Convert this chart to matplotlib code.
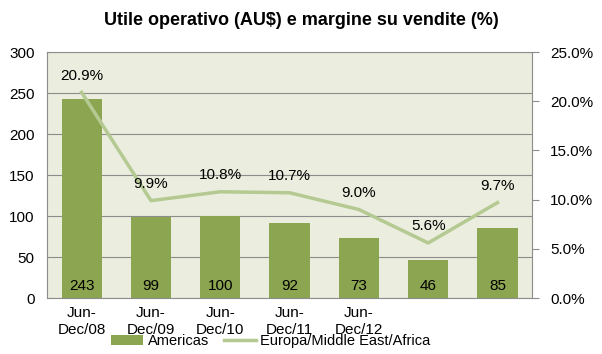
import matplotlib
matplotlib.use("Agg")
import matplotlib.pyplot as plt
import numpy as np

categories = ["Jun-\nDec/08", "Jun-\nDec/09", "Jun-\nDec/10", "Jun-\nDec/11", "Jun-\nDec/12", "", ""]
bar_values = [243, 99, 100, 92, 73, 46, 85]
margin_pct = [20.9, 9.9, 10.8, 10.7, 9.0, 5.6, 9.7]
bar_name = "Americas"
line_name = "Europa/Middle East/Africa"
title = "Utile operativo (AU$) e margine su vendite (%)"

bar_color = "#8BA550"
line_color = "#B4CA92"
bg_color = "#EBEEDE"
grid_color = "#8C8C8C"

plt.rcParams['font.family'] = ['Liberation Sans', 'DejaVu Sans']

fig = plt.figure(figsize=(6.02, 3.54), dpi=100)
ax = fig.add_axes([0.078, 0.158, 0.806, 0.695])
ax.set_facecolor(bg_color)
x = np.arange(len(categories))
bars = ax.bar(x, bar_values, width=0.58, color=bar_color, label=bar_name, zorder=2)
ax.set_ylim(0, 300)
ax.set_yticks(np.arange(0, 301, 50))
ax.set_xlim(-0.5, len(categories) - 0.5)
ax.set_xticks(x)
ax.set_xticklabels(categories, fontsize=11)
ax.tick_params(axis='x', length=0, pad=6)
ax.tick_params(axis='y', length=0, labelsize=11, pad=9)
ax.yaxis.grid(True, color=grid_color, linewidth=0.8, zorder=0)
ax.set_axisbelow(True)
for s in ['top', 'right']:
    ax.spines[s].set_visible(False)
for s in ['left', 'bottom']:
    ax.spines[s].set_color(grid_color)
for xi, v in zip(x, bar_values):
    ax.text(xi, 6, str(v), ha='center', va='bottom', fontsize=11, zorder=3)

ax2 = ax.twinx()
ln, = ax2.plot(x, margin_pct, color=line_color, linewidth=2.5, label=line_name, zorder=4)
ax2.set_ylim(0, 25)
ax2.set_yticks(np.arange(0, 25.1, 5))
ax2.set_yticklabels([f"{v:.1f}%" for v in np.arange(0, 25.1, 5)], fontsize=11)
ax2.tick_params(axis='y', length=5, color=grid_color, pad=8)
for s in ['left', 'bottom']:
    ax2.spines[s].set_visible(False)
ax2.spines['right'].set_color(grid_color)
ax2.spines['top'].set_color(grid_color)
for xi, v in zip(x, margin_pct):
    ax2.text(xi, v + 1.0, f"{v:.1f}%", ha='center', va='bottom', fontsize=11, zorder=5)

fig.suptitle(title, fontsize=13, fontweight='bold', y=0.965)
fig.legend([bars, ln], [bar_name, line_name], loc='lower center', ncol=2,
           bbox_to_anchor=(0.45, -0.02), frameon=False, fontsize=10.5,
           handlelength=2.2, columnspacing=1.0, handletextpad=0.3)
fig.savefig("out.png", dpi=100)
